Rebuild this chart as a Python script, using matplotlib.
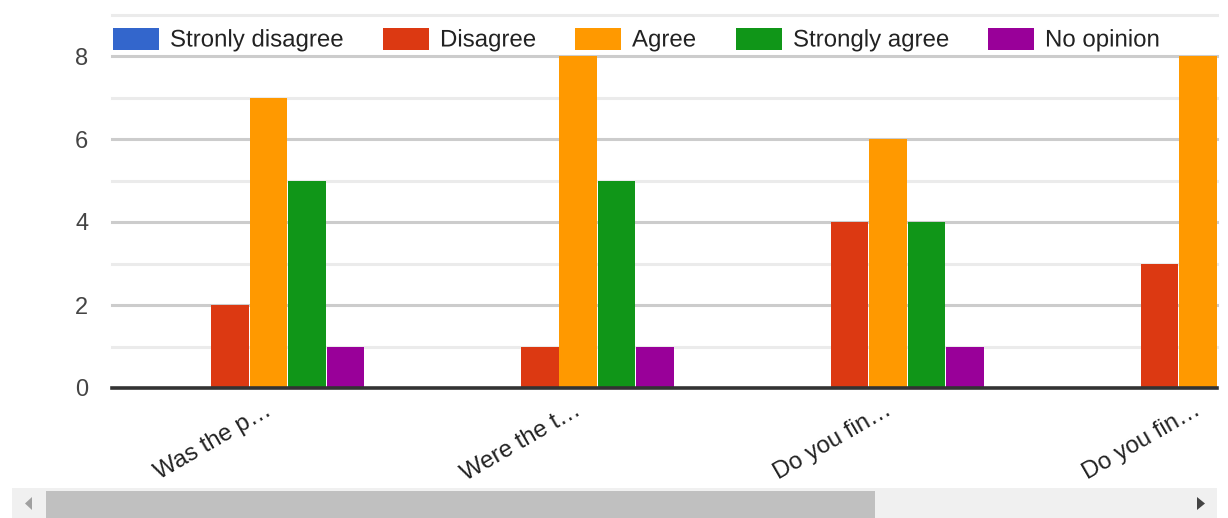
import matplotlib
matplotlib.use("Agg")
import matplotlib.pyplot as plt
import matplotlib.patheffects as pe
from matplotlib.patches import Rectangle, Polygon
import numpy as np

plt.rcParams['font.family'] = ['Liberation Sans', 'DejaVu Sans']

categories = ["Was the p…", "Were the t…", "Do you fin…", "Do you fin…"]
series_names = ["Stronly disagree", "Disagree", "Agree", "Strongly agree", "No opinion"]
colors = ["#3366cc", "#dc3912", "#ff9900", "#109618", "#990099"]
values = {
    "Stronly disagree": [0, 0, 0, 0],
    "Disagree": [2, 1, 4, 3],
    "Agree": [7, 8, 6, 8],
    "Strongly agree": [5, 5, 4, 3],
    "No opinion": [1, 1, 1, 1],
}
y_ticks = [0, 2, 4, 6, 8]

W, H = 1228, 518
fig = plt.figure(figsize=(W / 100, H / 100), dpi=100)
ax = fig.add_axes([112 / W, (H - 388) / H, (1217 - 112) / W, (388 - 14.5) / H])

step = 38.5 / 310
width = 37.6 / 310
x = np.arange(len(categories))
for i, name in enumerate(series_names):
    offs = (i - 2) * step
    ax.bar(x + offs, values[name], width=width, color=colors[i], zorder=3)

ax.set_xlim(-0.505, 3.062)
ax.set_ylim(0, 9)

# gridlines: majors darker, minors lighter
for v in range(1, 10):
    c = "#cccccc" if v % 2 == 0 else "#ebebeb"
    ax.axhline(v, color=c, lw=2.2, zorder=1, clip_on=False)
ax.axhline(0, color="#333333", lw=2.6, zorder=4, clip_on=False)

for s in ax.spines.values():
    s.set_visible(False)
ax.set_yticks(y_ticks)
ax.set_yticklabels([str(t) for t in y_ticks], fontsize=17, color="#444444")
ax.tick_params(axis="y", length=0, pad=17)
ax.set_xticks([])

# rotated category labels
for xi, lab in zip(x, categories):
    ax.annotate(lab, xy=(xi, 0), xycoords="data", xytext=(-3, -8),
                textcoords="offset points", rotation=30, ha="right", va="top",
                rotation_mode="anchor", fontsize=17.3, color="#222222",
                annotation_clip=False)

# legend row
legend_x = [113, 383, 575, 736, 988]
for lx, name, c in zip(legend_x, series_names, colors):
    fig.patches.append(Rectangle((lx / W, (H - 50) / H), 46 / W, 22 / H,
                                 transform=fig.transFigure, facecolor=c,
                                 edgecolor="none", zorder=5))
    fig.text((lx + 57) / W, (H - 40.5) / H, name, fontsize=17.3, color="#222222",
             va="center", ha="left", zorder=6,
             path_effects=[pe.withStroke(linewidth=3, foreground="white")])

# horizontal scrollbar
fig.patches.append(Rectangle((12 / W, 0), (1217 - 12) / W, 30 / H,
                             transform=fig.transFigure, facecolor="#f0f0f0",
                             edgecolor="none", zorder=5))
fig.patches.append(Rectangle((46 / W, 0), (875 - 46) / W, 27 / H,
                             transform=fig.transFigure, facecolor="#c0c0c0",
                             edgecolor="none", zorder=6))
fig.patches.append(Polygon([[32 / W, (H - 497) / H], [32 / W, (H - 510) / H],
                            [25 / W, (H - 503.5) / H]], closed=True,
                           transform=fig.transFigure, facecolor="#a0a0a0",
                           edgecolor="none", zorder=7))
fig.patches.append(Polygon([[1197 / W, (H - 497) / H], [1197 / W, (H - 510) / H],
                            [1205 / W, (H - 503.5) / H]], closed=True,
                           transform=fig.transFigure, facecolor="#444444",
                           edgecolor="none", zorder=7))

fig.savefig("out.png", dpi=100, facecolor="white")
